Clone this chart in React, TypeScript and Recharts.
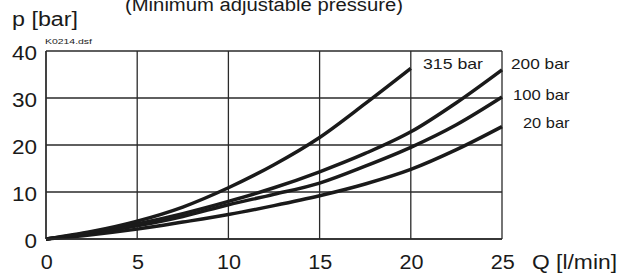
import React from "react";
import { LineChart, Line, XAxis, YAxis, CartesianGrid } from "recharts";

const flowQ = [0, 2.5, 5, 7.5, 10, 12.5, 15, 17.5, 20, 22.5, 25];
const p315 = [0, 1.6, 3.8, 6.8, 10.9, 15.8, 21.6, 28.8, 36.3, null, null];
const p200 = [0, 1.4, 3.2, 5.4, 8.0, 10.9, 14.3, 18.2, 22.8, 29.0, 36.0];
const p100 = [0, 1.2, 2.8, 4.8, 7.3, 9.5, 11.9, 15.5, 19.5, 24.3, 30.2];
const p20 = [0, 0.9, 2.1, 3.6, 5.2, 7.1, 9.2, 11.7, 14.8, 19.0, 23.9];

const xTicks = [0, 5, 10, 15, 20, 25];
const yTicks = [0, 10, 20, 30, 40];

const seriesLabels = ["315 bar", "200 bar", "100 bar", "20 bar"];
const xAxisTitle = "Q [l/min]";
const yAxisTitle = "p [bar]";
const chartTitle = "(Minimum adjustable pressure)";
const fileTag = "K0214.dsf";

const data = flowQ.map((q, i) => ({
  q,
  p315: p315[i],
  p200: p200[i],
  p100: p100[i],
  p20: p20[i],
}));

const FONT = "'Liberation Sans', Arial, Helvetica, sans-serif";
const INK = "#1a1a1a";

const XTick = (props: any) => {
  const { x, y, payload } = props;
  const s = String(payload.value);
  return (
    <text
      x={x + 0.7}
      y={y + 30}
      textAnchor="middle"
      fontFamily={FONT}
      fontSize={20}
      fill={INK}
      textLength={12 * s.length}
      lengthAdjust="spacingAndGlyphs"
    >
      {s}
    </text>
  );
};

const YTick = (props: any) => {
  const { y, payload } = props;
  const s = String(payload.value);
  return (
    <text
      x={37}
      y={y + 9}
      textAnchor="end"
      fontFamily={FONT}
      fontSize={20}
      fill={INK}
      textLength={12.5 * s.length}
      lengthAdjust="spacingAndGlyphs"
    >
      {s}
    </text>
  );
};

const T = (p: { x: number; y: number; size: number; len: number; children: string }) => (
  <text
    x={p.x}
    y={p.y}
    fontFamily={FONT}
    fontSize={p.size}
    fill={INK}
    textLength={p.len}
    lengthAdjust="spacingAndGlyphs"
  >
    {p.children}
  </text>
);

export default function App() {
  return (
    <div style={{ position: "absolute", left: 0, top: 0, width: 622, height: 273, background: "#fff" }}>
      <LineChart
        width={622}
        height={273}
        data={data}
        margin={{ top: 51, right: 120, bottom: 4, left: 0 }}
      >
        <CartesianGrid stroke="#2a2a2a" strokeWidth={1.3} />
        <XAxis
          dataKey="q"
          type="number"
          domain={[0, 25]}
          ticks={xTicks}
          height={30}
          axisLine={{ stroke: "#2a2a2a", strokeWidth: 1.3 }}
          tickLine={false}
          tickSize={0}
          tickMargin={0}
          tick={<XTick />}
          interval={0}
        />
        <YAxis
          type="number"
          domain={[0, 40]}
          ticks={yTicks}
          width={46}
          axisLine={{ stroke: "#2a2a2a", strokeWidth: 1.3 }}
          tickLine={false}
          tickSize={0}
          tickMargin={0}
          tick={<YTick />}
          interval={0}
        />
        <Line dataKey="p20" type="monotone" stroke={INK} strokeWidth={3.5} dot={false} isAnimationActive={false} />
        <Line dataKey="p100" type="monotone" stroke={INK} strokeWidth={3.5} dot={false} isAnimationActive={false} />
        <Line dataKey="p200" type="monotone" stroke={INK} strokeWidth={3.5} dot={false} isAnimationActive={false} />
        <Line dataKey="p315" type="monotone" stroke={INK} strokeWidth={3.5} dot={false} isAnimationActive={false} connectNulls={false} />
      </LineChart>
      <svg
        width={622}
        height={273}
        style={{ position: "absolute", left: 0, top: 0, pointerEvents: "none" }}
      >
        <T x={125} y={11} size={18} len={278}>{chartTitle}</T>
        <T x={12} y={26} size={20} len={66}>{yAxisTitle}</T>
        <T x={45} y={44} size={7} len={47}>{fileTag}</T>
        <T x={532} y={269} size={20} len={85}>{xAxisTitle}</T>
        <T x={423} y={69} size={15} len={60}>{seriesLabels[0]}</T>
        <T x={511} y={69} size={15} len={58.5}>{seriesLabels[1]}</T>
        <T x={513} y={100} size={15} len={56.5}>{seriesLabels[2]}</T>
        <T x={523} y={128} size={15} len={46.5}>{seriesLabels[3]}</T>
      </svg>
    </div>
  );
}
